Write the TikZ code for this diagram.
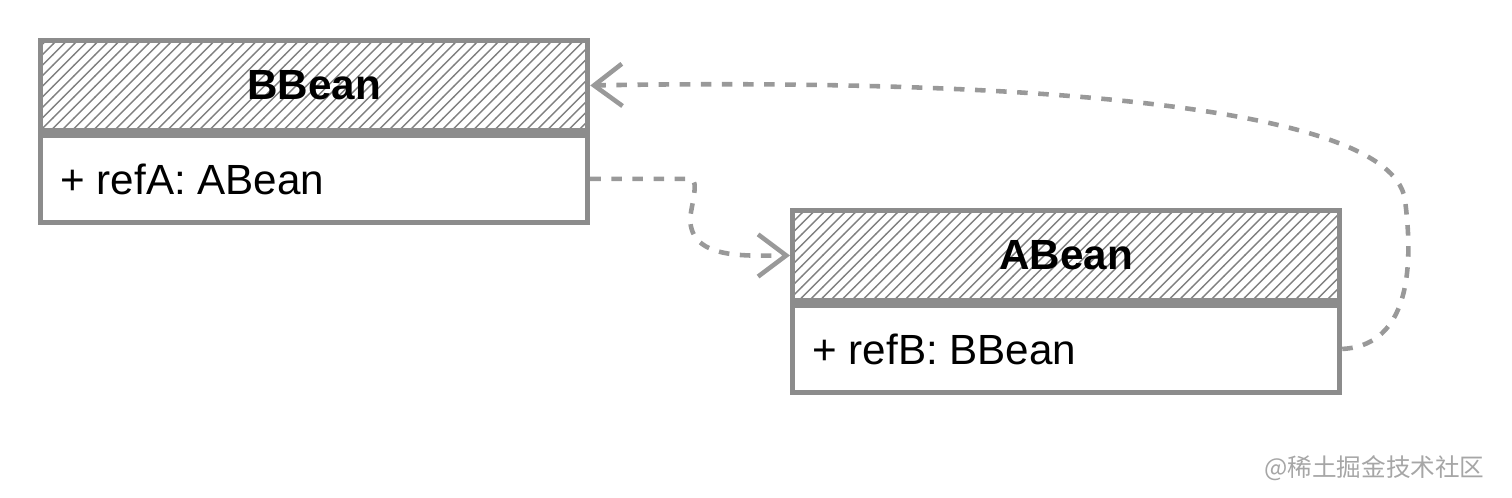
\documentclass[tikz,border=0pt]{standalone}
\usepackage{fontspec}
\setmainfont{Liberation Sans}
\newfontfamily\cjkfont{Noto Sans CJK SC}
\usetikzlibrary{patterns,positioning,arrows.meta}
\colorlet{boxLine}{gray!90}
\colorlet{linkLine}{gray!80}

\begin{document}
\begin{tikzpicture}[
  x=0.01cm, y=-0.01cm,
  every header/.style={
    draw=boxLine, line width=1.4pt,
    pattern=north east lines, pattern color=gray,
    minimum width=5.47cm, minimum height=0.9cm,
    inner sep=0pt, font=\fontsize{12}{14}\selectfont\bfseries
  },
  every body/.style={
    draw=boxLine, line width=1.4pt,
    minimum width=5.47cm, minimum height=0.87cm,
    inner sep=0pt
  },
  link/.style={
    draw=linkLine, line width=1.3pt, dashed,
    -{Straight Barb[length=8pt,width=12pt]}
  }
]
\useasboundingbox (0,0) rectangle (1512,498);
% BBean
\node[every header/.try,anchor=north west] (bHead) at (38,38) {BBean};
\node[every body/.try,below=0pt of bHead] (bBody) {};
\node[anchor=west] (bRef) at ([xshift=0.1cm]bBody.west) {\fontsize{12}{14}\selectfont + refA: ABean};
% ABean
\node[every header/.try,anchor=north west] (aHead) at (790,208) {ABean};
\node[every body/.try,below=0pt of aHead] (aBody) {};
\node[anchor=west] (aRef) at ([xshift=0.1cm]aBody.west) {\fontsize{12}{14}\selectfont + refB: BBean};
% links
\draw[link] (bBody.east) to[out=0,in=180,looseness=0.5] ++(100,0)
  .. controls +(10,0) and +(0,-10) .. ++(0,40)
  to[out=-90,in=180] (aHead.west);
\draw[link] (aBody.east) .. controls (1420,345) and (1410,240) .. (1405,200)
  .. controls (1390,90) and (900,80) .. (bHead.east);
\node[text=gray!70, font=\cjkfont\fontsize{7}{9}\selectfont, anchor=east] (mark) at (1497,468) {@稀土掘金技术社区};
\end{tikzpicture}
\end{document}
